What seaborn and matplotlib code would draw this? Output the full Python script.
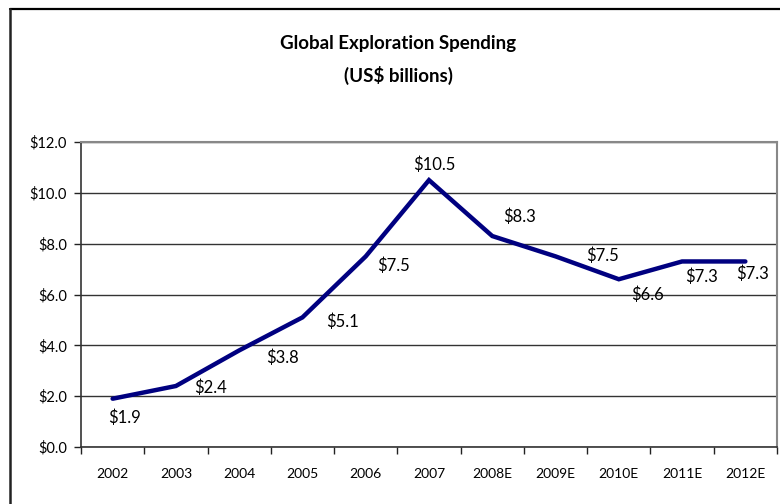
import matplotlib
matplotlib.use("Agg")
import matplotlib.pyplot as plt
import matplotlib.ticker as mticker
from matplotlib.lines import Line2D
import seaborn as sns
import pandas as pd

years = ["2002", "2003", "2004", "2005", "2006", "2007",
         "2008E", "2009E", "2010E", "2011E", "2012E"]
spending = [1.9, 2.4, 3.8, 5.1, 7.5, 10.5, 8.3, 7.5, 6.6, 7.3, 7.3]
labels = ["$1.9", "$2.4", "$3.8", "$5.1", "$7.5", "$10.5",
          "$8.3", "$7.5", "$6.6", "$7.3", "$7.3"]
# label offsets in pixels (style only)
offsets = [(12, -19), (35, -2), (43, -7), (40, -4), (28, -9), (5, 15),
           (27, 19), (47, 1), (29, -15), (19, -15), (7, -12)]

sns.set_theme(style="white")
plt.rcParams["font.family"] = ["Lato", "DejaVu Sans"]

df = pd.DataFrame({"year": years, "spending": spending})

fig = plt.figure(figsize=(7.8, 5.04), dpi=100)
ax = fig.add_axes([81 / 780, 57 / 504, (777 - 81) / 780, (447 - 142) / 504])

sns.lineplot(data=df, x="year", y="spending", ax=ax, sort=False,
             color="#000080", linewidth=3.2, solid_joinstyle="miter")

for i, (v, lab, off) in enumerate(zip(spending, labels, offsets)):
    ax.annotate(lab, (i, v), xytext=off, textcoords="offset pixels",
                ha="center", va="center", fontsize=12, color="black")

ax.set_xlim(-0.5, len(years) - 0.5)
ax.set_ylim(0, 12)
ax.yaxis.set_major_locator(mticker.MultipleLocator(2))
ax.yaxis.set_major_formatter(mticker.FuncFormatter(lambda v, p: f"${v:.1f}"))
ax.set_xticks(range(len(years)))
ax.set_xticklabels(years)
ax.set_xticks([i - 0.5 for i in range(len(years) + 1)], minor=True)
ax.tick_params(axis="x", which="major", length=0, pad=15, labelsize=10, colors="black")
ax.tick_params(axis="x", which="minor", length=5, width=1, color="#222222", bottom=True)
ax.tick_params(axis="y", which="major", length=5, width=1, color="#222222",
               left=True, pad=5, labelsize=10.5, labelcolor="black")
ax.set_xlabel("")
ax.set_ylabel("")
ax.grid(axis="y", color="#333333", linewidth=1)
ax.grid(axis="x", visible=False)
ax.set_axisbelow(True)

for side in ["left", "bottom"]:
    ax.spines[side].set_color("#333333")
    ax.spines[side].set_linewidth(1.2)
for side in ["top", "right"]:
    ax.spines[side].set_color("#888888")
    ax.spines[side].set_linewidth(1.5)

fig.text(398 / 780, 1 - 43 / 504, "Global Exploration Spending", ha="center",
         va="center", fontsize=13.5, fontweight="bold", color="black")
fig.text(398 / 780, 1 - 75 / 504, "(US$ billions)", ha="center",
         va="center", fontsize=13.5, fontweight="bold", color="black")

# outer chart frame (top and left visible)
fig.add_artist(Line2D([9.5 / 780, 1.0], [1 - 8.5 / 504, 1 - 8.5 / 504],
                      transform=fig.transFigure, color="black", linewidth=1.6))
fig.add_artist(Line2D([9.5 / 780, 9.5 / 780], [0, 1 - 8.5 / 504],
                      transform=fig.transFigure, color="#222222", linewidth=1.8))

fig.savefig("out.png", dpi=100)
